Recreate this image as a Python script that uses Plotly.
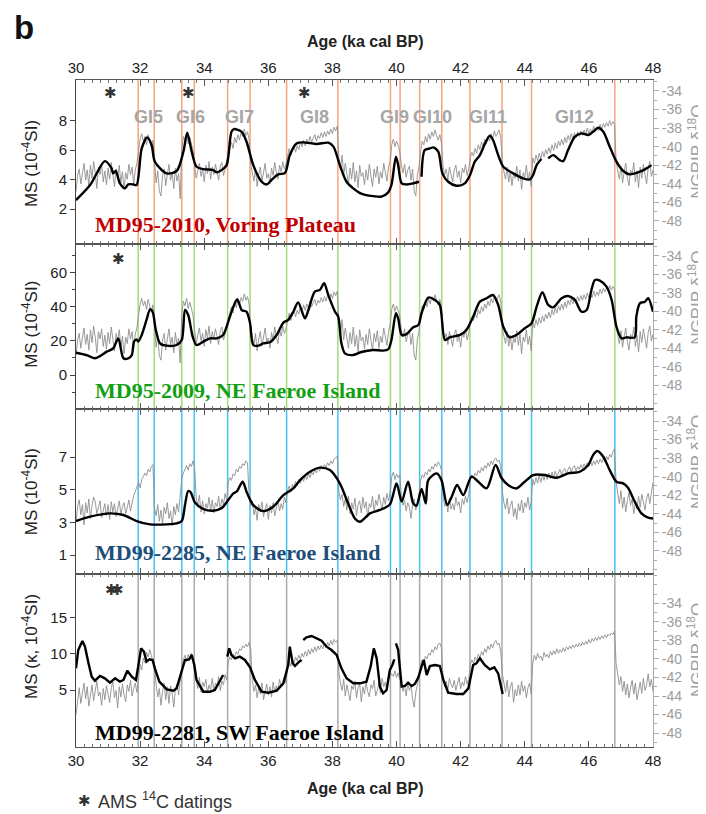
import numpy as np
import plotly.graph_objects as go

# ---------------- data ----------------
# common sampling grid of the NGRIP delta18O curves (ka cal BP)
NGRIP_AGE = np.round(np.arange(30.0, 48.0001, 0.05), 2)

# NGRIP d18O as drawn behind MD95-2010 and MD95-2009
NGRIP_D18O = [
    -44.8, -43.1, -42.4, -44.0, -42.9, -41.8, -43.6, -42.5, -44.2, -42.0,
    -43.4, -41.6, -42.8, -44.5, -42.2, -43.0, -41.9, -43.8, -42.6, -44.1,
    -42.3, -43.5, -41.7, -42.9, -44.3, -42.4, -43.2, -42.0, -43.9, -42.7,
    -44.6, -42.8, -43.5, -41.9, -43.0, -42.2, -44.0, -42.5, -41.8,
    -40.5, -39.2, -38.6, -39.4, -38.9, -39.8, -38.7, -39.5, -40.1, -39.3,
    -41.8, -43.9, -42.6, -44.8, -45.3, -43.1, -42.4, -44.2, -43.0, -41.9, -43.6, -42.8, -44.5, -42.3, -43.7, -42.9, -45.6,
    -40.2, -38.9, -39.4, -38.6, -39.7, -39.0, -39.8, -40.4,
    -42.1, -43.4, -42.6, -41.8, -43.2, -42.4, -43.8, -42.0, -42.9, -41.6, -43.5, -42.2, -43.0, -41.9, -42.7, -43.6, -42.1, -41.7, -43.1, -42.5, -41.5,
    -40.8, -40.1, -39.5, -40.2, -39.0, -39.6, -38.7, -39.3, -38.5, -38.9, -38.1, -38.8, -38.4, -39.2,
    -41.9, -42.8, -43.7, -42.4, -44.3, -43.0, -42.2, -43.8, -42.6, -41.8, -43.4, -42.9, -44.0, -42.3, -43.1, -41.7, -42.8, -43.5, -42.0, -42.7, -41.6, -42.4, -41.9,
    -40.9, -40.2, -41.0, -40.4, -39.8, -40.6, -39.9, -40.3, -39.5, -40.0, -39.3, -39.9, -39.2, -39.7, -38.9, -39.5,
    -39.0, -38.7, -39.4, -38.8, -39.1, -38.5, -39.0, -38.4, -38.9, -38.3, -38.7, -38.1, -38.6, -37.9, -38.3, -37.8,
    -41.2, -42.5, -40.9, -43.1, -41.8, -42.9, -44.0, -42.3, -43.5, -41.7, -43.8, -42.6, -44.4, -42.0, -43.2, -42.8, -44.1,
    -42.5, -43.6, -41.9, -43.0, -44.3, -42.4, -43.3, -42.1, -44.0, -42.7, -43.4, -41.8, -42.9, -43.7, -42.2, -41.5,
    -39.8, -39.2, -40.0, -39.4, -39.9, -40.5,
    -42.0, -42.8, -41.9, -43.3, -42.5, -42.1, -43.6, -42.4, -44.8, -45.3, -43.0, -42.2,
    -40.6, -39.4, -39.8, -38.9, -39.5, -38.6, -39.2, -38.4, -38.9, -38.2, -38.8, -39.3, -38.7, -39.6,
    -42.1, -43.0, -42.4, -43.6, -42.2, -42.9, -43.8, -42.5, -42.0, -43.3, -42.6, -43.9, -42.3, -42.8, -41.9, -43.1, -42.4,
    -41.2, -40.6, -41.0, -40.2, -40.7, -39.8, -40.3, -39.5, -40.0, -39.2, -39.7, -38.9, -39.4, -38.6, -39.1, -38.3, -38.9, -38.5, -38.2, -39.0,
    -41.9, -42.7, -43.5, -42.2, -43.8, -42.6, -44.2, -42.9, -43.4, -42.1, -43.7, -42.5, -44.6, -42.8, -43.3, -42.0, -43.6, -42.7, -44.3,
    -41.2, -41.8, -40.9, -41.5, -40.7, -41.3, -40.5, -41.1, -40.3, -40.8,
    -40.1, -40.7, -39.8, -40.4, -39.6, -40.2, -39.4, -39.9, -39.2, -39.8,
    -39.0, -39.6, -38.8, -39.3, -38.6, -39.2, -38.5, -39.0, -38.4, -38.9,
    -38.3, -38.8, -38.2, -38.7, -38.0, -38.6, -38.1, -38.5, -37.8, -38.4,
    -37.9, -38.3, -37.6, -38.1, -37.5, -37.9, -37.4, -37.8, -37.2, -37.7, -37.3, -37.6,
    -41.6, -42.4, -43.5, -42.1, -43.9, -42.7, -41.8, -43.3, -44.2, -42.5, -43.0, -41.7,
    -43.8, -42.6, -44.4, -42.2, -43.4, -41.9, -42.8, -44.0, -42.3, -41.6, -43.2, -42.5,
]

# NGRIP d18O as drawn behind MD99-2285
NGRIP_D18O_P3 = [
    -44.9, -43.2, -42.5, -44.1, -43.0, -45.2, -42.8, -43.9, -42.4, -44.5,
    -43.1, -42.2, -42.7, -44.0, -43.3, -42.6, -44.4, -43.5, -42.9, -44.2,
    -43.0, -44.6, -42.7, -43.8, -42.9, -44.3, -43.4, -42.6, -44.1, -43.2,
    -42.8, -44.0, -43.3, -42.5, -43.7, -42.9, -42.0,
    -41.6, -41.0, -40.6, -41.2, -40.3, -40.0, -39.6, -39.9, -39.2, -39.5, -38.9, -38.7,
    -43.4, -44.2, -43.0, -44.8, -43.6, -45.1, -43.3, -44.0, -42.8, -44.5, -43.7, -45.3, -43.2, -44.1, -42.9, -43.8, -41.5,
    -40.2, -39.6, -39.1, -38.8, -39.3, -38.6, -38.9, -38.3, -39.0,
    -42.3, -43.1, -42.0, -43.8, -42.6, -44.0, -42.9, -43.4, -42.2, -43.7, -42.5, -43.9, -42.8, -43.2, -42.1, -43.6, -42.4, -43.0, -41.8, -42.6,
    -40.6, -40.1, -40.4, -39.7, -39.9, -39.2, -39.5, -38.9, -39.1, -38.6, -38.8, -38.3, -38.5,
    -42.0, -43.2, -42.6, -44.1, -43.4, -44.7, -43.0, -43.8, -42.7, -44.3, -43.5, -42.9, -44.6, -43.1, -43.9, -42.8, -44.2, -43.3, -42.6, -43.7, -42.9, -43.5, -42.2, -42.8,
    -41.5, -41.0, -41.7, -40.8, -41.2, -40.5, -41.0, -40.3, -40.7, -40.1, -40.5, -39.9, -40.3, -39.7, -40.1, -39.5,
    -39.8, -39.2, -39.6, -39.0, -39.4, -38.8, -39.2, -38.7, -39.0, -38.5, -38.8, -38.3, -38.6, -38.1, -38.0, -37.8,
    -41.6, -42.5, -41.9, -43.2, -42.4, -43.6, -42.1, -44.0, -42.8, -43.5, -42.3, -44.2, -43.0, -42.6, -43.9, -42.2, -43.4,
    -42.7, -44.4, -42.9, -43.3, -42.1, -43.8, -42.5, -43.1, -41.9, -42.8, -43.6, -42.2, -43.0, -41.8, -42.6, -41.7,
    -40.0, -39.5, -40.3, -39.7, -40.1, -39.8,
    -42.0, -43.1, -42.5, -43.7, -42.8, -43.3, -44.5, -43.0, -42.4, -43.6, -42.7, -42.1,
    -40.4, -39.8, -40.1, -39.5, -39.8, -39.2, -39.5, -38.9, -39.2, -38.6, -38.9, -38.4, -38.7, -39.3,
    -42.0, -43.2, -42.6, -43.8, -42.3, -43.5, -42.9, -43.6, -42.2, -43.1, -42.7, -43.9, -42.4, -43.0, -42.1, -42.8, -41.9,
    -40.3, -39.8, -40.1, -39.6, -39.9, -39.3, -39.6, -39.0, -39.4, -38.8, -39.1, -38.5, -38.9, -38.3, -38.7, -38.1, -38.0, -38.4, -38.2, -38.9,
    -41.6, -42.8, -43.5, -42.3, -44.0, -43.1, -42.6, -44.3, -43.4, -44.6, -42.9, -43.7, -42.5, -43.9, -42.8, -43.3, -42.2, -43.6, -42.7,
    -40.3, -40.9, -40.1, -40.7, -39.9, -40.6, -39.8, -40.4, -39.7, -40.3,
    -39.6, -40.2, -39.5, -40.1, -39.4, -40.0, -39.6, -39.2, -39.9, -39.3,
    -39.1, -39.7, -39.2, -38.9, -39.5, -39.0, -38.8, -39.4, -38.9, -39.2,
    -38.7, -39.1, -38.6, -39.0, -38.5, -38.9, -38.4, -38.8, -38.3, -38.7,
    -38.2, -38.6, -38.1, -38.5, -38.0, -38.4, -37.8, -38.2, -37.6, -37.9, -37.3, -37.0,
    -40.6, -41.8, -42.9, -41.5, -43.4, -42.2, -43.8, -42.6, -41.7, -43.1, -42.4, -44.0,
    -42.8, -43.5, -42.1, -43.3, -41.9, -42.7, -43.6, -42.3, -41.8, -42.9, -41.4, -40.6,
]

# NGRIP d18O as drawn behind MD99-2281
NGRIP_D18O_P4 = [
    -46.0, -44.2, -43.1, -44.8, -43.5, -42.6, -44.3, -43.0, -45.1, -43.7,
    -42.8, -44.5, -43.3, -42.4, -44.0, -43.6, -45.0, -43.2, -44.4, -42.9,
    -43.8, -44.7, -43.1, -42.5, -44.2, -43.4, -45.3, -43.0, -44.1, -42.7,
    -43.9, -44.6, -42.8, -43.5, -42.3, -44.0, -43.2, -42.6, -43.6,
    -41.8, -40.6, -41.2, -39.9, -40.4, -39.3, -39.8, -39.0, -39.6, -40.3, -41.0,
    -42.8, -44.1, -43.2, -45.0, -43.5, -42.6, -44.4, -43.0, -44.8, -42.9, -43.7, -45.2, -43.3, -42.7, -43.9, -42.0,
    -40.8, -40.1, -39.6, -40.3, -39.5, -40.0, -39.4, -39.9, -40.5,
    -42.3, -43.2, -42.0, -43.6, -42.5, -43.0, -42.2, -43.7, -42.8, -43.3, -42.1, -43.5, -42.6, -42.9, -41.9, -43.4, -42.4, -42.8, -41.7, -42.3,
    -40.3, -39.8, -40.1, -39.5, -39.8, -39.2, -39.5, -38.9, -39.1, -38.6, -38.8, -38.4, -38.7, -38.2, -38.9,
    -42.3, -43.5, -42.8, -44.2, -43.1, -43.8, -42.6, -44.4, -43.3, -42.7, -43.9, -43.0, -44.1, -42.5, -43.6, -42.9, -43.4, -42.2, -43.0, -42.4, -41.9, -42.6,
    -40.6, -40.2, -40.8, -40.0, -40.5, -39.8, -40.2, -39.6, -40.0, -39.4, -39.8, -39.2, -39.7, -39.0, -39.5, -38.9,
    -39.3, -38.7, -39.2, -38.6, -39.0, -38.5, -38.9, -38.3, -38.8, -38.2, -38.6, -38.0, -38.5, -37.9, -38.2, -38.0,
    -41.5, -42.6, -43.4, -42.2, -44.0, -42.8, -43.6, -44.5, -42.9, -43.3, -42.4, -44.2, -43.1, -42.7, -44.6, -43.0, -43.8,
    -42.5, -43.5, -44.1, -42.8, -43.2, -42.3, -44.0, -43.4, -42.6, -43.7, -42.1, -43.0, -42.5, -43.3, -42.2, -41.9,
    -41.6, -41.9, -41.3, -42.0, -41.5, -42.2,
    -42.4, -43.5, -42.8, -44.0, -42.6, -43.4, -42.9, -44.3, -45.2, -43.6, -42.7, -42.0,
    -40.6, -40.1, -40.4, -39.7, -40.0, -39.4, -39.6, -39.0, -39.3, -38.7, -39.0, -38.4, -38.3, -38.8,
    -42.0, -43.0, -42.4, -43.3, -42.1, -42.8, -43.1, -42.3, -43.4, -42.6, -42.0, -43.2, -42.5, -42.9, -41.9, -42.7, -42.2,
    -40.6, -40.1, -40.5, -39.8, -40.2, -39.5, -39.9, -39.2, -39.6, -38.9, -39.3, -38.6, -39.0, -38.4, -38.8, -38.2, -38.0, -38.5, -38.3, -39.2,
    -41.6, -42.7, -43.6, -42.3, -44.1, -43.0, -42.5, -44.7, -43.3, -44.0, -42.8, -43.9, -42.4, -43.5, -42.9, -44.2, -43.1, -42.6, -43.8,
    -40.4, -39.6, -40.1, -39.4, -39.9, -39.7, -40.2, -39.3, -39.8, -39.5,
    -39.9, -39.2, -39.6, -39.1, -39.5, -38.9, -39.4, -39.0, -39.3, -38.8,
    -39.2, -38.7, -39.0, -38.6, -38.9, -38.5, -38.8, -38.4, -38.7, -38.3,
    -38.6, -38.2, -38.5, -38.1, -38.4, -37.9, -38.3, -37.8, -38.1, -37.7,
    -38.0, -37.6, -37.9, -37.5, -37.8, -37.4, -37.7, -37.3, -37.5, -37.2, -37.4, -37.0,
    -40.5, -41.6, -42.8, -41.9, -43.5, -42.4, -43.9, -42.7, -44.2, -43.1, -42.3, -43.8,
    -42.6, -44.4, -43.2, -42.5, -43.7, -42.1, -43.4, -42.8, -41.6, -43.0, -42.2, -43.5,
]

# Magnetic susceptibility records (10^-4 SI); None = gap in the record
MD2010_AGE = [30.0, 30.44, 30.9, 31.11, 31.16, 31.24, 31.37, 31.53, 31.63, 31.79, 31.89, 32.05, 32.22, 32.36, 32.46,
              32.83, 33.14, 33.35, 33.47, 33.61, 33.76, 33.97, 34.28, 34.39, 34.54, 34.7, 34.85, 34.93, 35.17, 35.32,
              35.53, 35.79, 35.95, 36.1, 36.31, 36.52, 36.67, 36.88, 37.09, 37.51, 37.87, 38.03, 38.23, 38.44, 38.65,
              38.86, 39.05, 39.27, 39.53, 39.74, 39.84, 39.98, 40.05, 40.16, 40.31, 40.52, 40.7, 40.75, 40.78, 40.88,
              41.04, 41.14, 41.3, 41.43, 41.61, 41.87, 42.13, 42.29, 42.44, 42.6, 42.76, 42.91, 43.01, 43.17, 43.33,
              43.64, 43.95, 44.16, 44.26, 44.37, 44.52, 44.62, 44.73, 44.89, 45.09, 45.2, 45.35, 45.56, 45.77, 45.98,
              46.13, 46.29, 46.45, 46.65, 46.86, 47.07, 47.28, 47.59, 47.8, 47.95]
MD2010_MS = [2.61, 3.63, 5.25, 4.76, 4.42, 4.58, 3.74, 3.40, 3.67, 3.67, 3.63, 6.11, 6.86, 6.34, 5.21,
             4.42, 4.58, 5.89, 7.18, 5.89, 4.87, 4.71, 4.64, 4.49, 4.64, 4.98, 7.24, 7.42, 7.24, 6.56,
             4.98, 3.85, 3.67, 3.97, 4.35, 4.46, 5.66, 6.45, 6.52, 6.41, 6.50, 6.23, 4.98, 3.85, 3.40,
             3.08, 2.95, 2.88, 2.84, 3.13, 3.63, 5.55, 4.98, 3.74, 3.67, 3.74, 3.85, None, 4.19, 6.0,
             6.11, 6.18, 5.89, 4.42, 3.85, 3.58, 3.74, 4.30, 5.21, 5.66, 6.45, 6.97, 6.68, 5.66, 4.87,
             4.42, 4.08, 4.01, 4.30, 4.98, 5.39, None, 5.44, 5.66, 5.32, 5.25, 6.0, 6.90, 7.13, 7.02,
             7.24, 7.51, 7.24, 6.23, 5.21, 4.58, 4.35, 4.53, 4.76, 4.98]

MD2009_AGE = [30.0, 30.33, 30.59, 30.75, 30.96, 31.16, 31.32, 31.48, 31.63, 31.74, 31.81, 31.89, 31.94, 32.05, 32.2,
              32.31, 32.39, 32.49, 32.62, 32.83, 33.14, 33.3, 33.4, 33.5, 33.64, 33.76, 33.97, 34.18, 34.39, 34.59,
              34.75, 34.91, 35.03, 35.17, 35.32, 35.43, 35.53, 35.69, 35.84, 36.05, 36.26, 36.47, 36.62, 36.78, 36.93,
              37.14, 37.25, 37.45, 37.61, 37.74, 37.87, 38.08, 38.18, 38.28, 38.39, 38.65, 38.9, 39.27, 39.58, 39.74,
              39.84, 39.98, 40.05, 40.16, 40.31, 40.52, 40.68, 40.78, 40.99, 41.2, 41.35, 41.51, 41.66, 41.98, 42.18,
              42.39, 42.6, 42.81, 43.01, 43.17, 43.33, 43.53, 43.74, 44.0, 44.21, 44.37, 44.55, 44.73, 44.89, 45.15,
              45.35, 45.56, 45.77, 45.93, 46.08, 46.19, 46.34, 46.55, 46.71, 46.86, 47.02, 47.17, 47.43, 47.48, 47.59,
              47.75, 47.85, 48.0]
MD2009_MS = [13.1, 11.7, 9.8, 11.1, 13.7, 15.6, 21.5, 9.8, 9.8, 11.7, 19.6, 20.9, 19.6, 23.5, 32.3,
             38.5, 37.1, 26.4, 18.6, 17.2, 17.6, 20.5, 38.1, 35.2, 22.5, 17.6, 19.6, 21.5, 21.5, 23.5,
             31.3, 40.1, 44.4, 38.1, 37.1, 30.3, 17.6, 17.2, 18.6, 19.2, 23.5, 30.7, 32.3, 37.1, 42.6,
             33.2, 38.1, 48.9, 49.9, 53.8, 46.9, 37.1, 34.2, 18.6, 12.7, 11.7, 13.5, 14.7, 14.3, 15.1,
             20.5, 36.2, 33.2, 23.5, 24.0, 28.0, 29.3, 36.2, 45.4, 44.0, 41.1, 20.5, 22.1, 23.5, 26.4,
             34.2, 43.0, 45.0, 46.9, 41.1, 28.3, 22.1, 23.5, 27.4, 30.3, 40.1, 48.5, 41.1, 39.7, 45.0,
             46.3, 44.0, 37.1, 38.1, 49.9, 55.7, 55.3, 51.8, 44.0, 28.3, 21.5, 22.1, 22.1, 34.2, 42.0,
             43.0, 45.0, 37.1]

MD2285_AGE = [30.0, 30.44, 31.06, 31.48, 31.89, 32.31, 32.83, 33.14, 33.3, 33.4, 33.5, 33.58, 33.71, 33.97, 34.28,
              34.54, 34.75, 34.91, 35.01, 35.2, 35.32, 35.53, 35.84, 36.15, 36.47, 36.78, 36.99, 37.3, 37.61, 37.92,
              38.23, 38.49, 38.7, 38.86, 39.17, 39.48, 39.79, 40.0, 40.16, 40.36, 40.52, 40.62, 40.78, 40.91, 40.99,
              41.25, 41.4, 41.58, 41.72, 41.89, 42.08, 42.34, 42.55, 42.81, 43.09, 43.27, 43.48, 43.74, 44.0, 44.26,
              44.63, 44.99, 45.35, 45.72, 45.98, 46.13, 46.26, 46.45, 46.65, 46.86, 47.07, 47.22, 47.43, 47.64, 47.85,
              48.0]
MD2285_MS = [3.08, 3.35, 3.55, 3.45, 3.08, 2.88, 2.88, 2.94, 3.08, 4.06, 4.92, 4.84, 4.22, 3.82, 3.71,
             3.86, 4.37, 4.78, 4.88, 5.49, 4.88, 4.06, 3.69, 3.96, 4.67, 5.08, 5.59, 6.10, 6.35, 6.20,
             5.39, 4.16, 3.24, 3.04, 3.55, 3.76, 4.10, 5.39, 4.27, 5.49, 4.16, 4.02, 5.04, 4.16, 5.59,
             6.0, 5.59, 4.06, 4.57, 5.29, 4.67, 5.80, 5.49, 5.08, 6.51, 5.73, 5.29, 5.08, 5.49, 5.90,
             5.90, 5.73, 6.0, 6.10, 6.51, 7.12, 7.37, 7.02, 6.20, 5.49, 5.39, 5.12, 4.27, 3.55, 3.29,
             3.24]

MD2281_AGE = [30.0, 30.07, 30.2, 30.28, 30.39, 30.49, 30.59, 30.75, 30.9, 31.06, 31.22, 31.37, 31.48, 31.6, 31.74,
              31.87, 31.94, 32.03, 32.12, 32.2, 32.29, 32.39, 32.46, 32.6, 32.83, 33.04, 33.14, 33.28, 33.4, 33.53,
              33.61, 33.69, 33.76, 33.97, 34.18, 34.33, 34.49, 34.59, 34.65, 34.72, 34.78, 34.85, 34.96, 35.11, 35.27,
              35.43, 35.58, 35.79, 36.0, 36.26, 36.47, 36.62, 36.67, 36.76, 36.83, 36.96, 37.04, 37.06, 37.09, 37.19,
              37.35, 37.51, 37.66, 37.82, 37.97, 38.13, 38.28, 38.44, 38.65, 38.86, 39.06, 39.19, 39.29, 39.38, 39.48,
              39.58, 39.69, 39.79, 39.87, 39.93, 39.95, 39.98, 40.05, 40.16, 40.26, 40.36, 40.47, 40.57, 40.68, 40.78,
              40.85, 40.94, 41.04, 41.2, 41.35, 41.46, 41.61, 41.87, 42.08, 42.24, 42.39, 42.49, 42.6, 42.75, 42.91,
              43.05, 43.17, 43.31]
MD2281_MS = [7.98, 10.5, 11.74, 10.96, 8.67, 6.83, 6.28, 6.93, 6.61, 6.01, 6.61, 6.15, 6.38, 7.66, 6.83,
             6.38, 8.21, 10.73, 10.28, 8.90, 9.22, 9.13, 7.98, 6.15, 5.09, 4.91, 5.23, 7.52, 9.13, 9.22,
             9.82, 8.44, 6.38, 4.77, 4.77, 5.0, 6.15, 7.06, None, 9.59, 10.73, 9.82, 9.36, 9.59, 9.13,
             8.12, 6.38, 4.77, 4.63, 4.91, 5.92, 8.44, 10.96, 8.67, 8.30, 8.90, 9.13, None, 11.88, 12.25,
             12.43, 12.11, 11.79, 10.96, 10.50, 9.82, 7.98, 6.61, 5.92, 5.92, 6.15, 8.21, 10.73, 9.36, 5.46,
             4.54, 5.0, 7.75, 8.44, 9.22, None, 11.42, 10.50, 5.46, 5.55, 6.01, 5.55, 5.83, 6.74, 8.21,
             9.13, 7.06, 8.30, 8.44, 8.30, 6.38, 4.63, 4.45, 4.45, 5.23, 8.44, 8.67, 9.36, 8.44, 7.84,
             8.12, 7.29, 4.45]

# Greenland interstadial boundaries (ka) and labels
GI_BOUNDS_AGE = [31.94, 32.44, 33.30, 33.69, 34.73, 35.43, 36.57, 38.17,
                 39.81, 40.11, 40.72, 41.41, 42.29, 43.29, 44.21, 46.81]
GI_NAMES = ["GI5", "GI6", "GI7", "GI8", "GI9", "GI10", "GI11", "GI12"]
GI_LABEL_AGE = [32.27, 33.57, 35.11, 37.44, 39.94, 41.13, 42.84, 45.56]

# AMS 14C dating positions (ka)
AMS_P1 = [31.08, 33.5, 37.12]
AMS_P2 = [31.32]
AMS_P3 = []
AMS_P4 = [31.1, 31.3]

AGE_TICKS = [30, 32, 34, 36, 38, 40, 42, 44, 46, 48]
D18O_TICKS = [-34, -36, -38, -40, -42, -44, -46, -48]
D18O_TICK_TEXT = ["-34", "-36", "-38", "-40", "-42", "-44", "-46", "-48"]

CORE_NAMES = ["MD95-2010, Voring Plateau", "MD95-2009, NE Faeroe Island",
              "MD99-2285, NE Faeroe Island", "MD99-2281, SW Faeroe Island"]

# ---------------- styling / layout ----------------
FONT = "Liberation Sans, Arial, sans-serif"
SERIF = "Liberation Serif, Times New Roman, serif"

panels = [
    dict(age=MD2010_AGE, ms=MD2010_MS, ngrip=NGRIP_D18O, ms_range=[-0.37, 10.75], d_range=[-50.48, -32.82],
         ms_ticks=[2, 4, 6, 8], ms_minor=None, vline='#f8a37e', name_color='#c00000',
         ms_title='MS (10<sup>-4</sup>SI)', shape='spline', ams=AMS_P1, ams_y=0.919,
         domain=[0.7541, 1.0], name_y=0.784, lt_y=0.874, rt_y=0.892),
    dict(age=MD2009_AGE, ms=MD2009_MS, ngrip=NGRIP_D18O, ms_range=[-19.94, 76.8], d_range=[-50.6, -32.7],
         ms_ticks=[0, 20, 40, 60], ms_minor=10, vline='#a3dc7a', name_color='#12a012',
         ms_title='MS (10<sup>-4</sup>SI)', shape='spline', ams=AMS_P2, ams_y=0.907,
         domain=[0.5067, 0.7541], name_y=0.535, lt_y=0.633, rt_y=0.673),
    dict(age=MD2285_AGE, ms=MD2285_MS, ngrip=NGRIP_D18O_P3, ms_range=[-0.16, 9.94], d_range=[-50.48, -32.71],
         ms_ticks=[1, 3, 5, 7], ms_minor=None, vline='#45c1f2', name_color='#1f4e79',
         ms_title='MS (10<sup>-4</sup>SI)', shape='spline', ams=AMS_P3, ams_y=0.9,
         domain=[0.2594, 0.5067], name_y=0.291, lt_y=0.382, rt_y=0.427),
    dict(age=MD2281_AGE, ms=MD2281_MS, ngrip=NGRIP_D18O_P4, ms_range=[-2.84, 20.96], d_range=[-49.5, -30.84],
         ms_ticks=[5, 10, 15], ms_minor=None, vline='#ababab', name_color='#000000',
         ms_title='MS (\u03ba, 10<sup>-4</sup>SI)', shape='linear', ams=AMS_P4, ams_y=0.907,
         domain=[0.0, 0.2594], name_y=0.021, lt_y=0.150, rt_y=0.145),
]


def axname(base, i):
    return base if i == 1 else f"{base}{i}"


def note(**kw):
    d = dict(showarrow=False, xanchor='center', yanchor='middle')
    d.update(kw)
    return d


fig = go.Figure()
# the page body adds an 8 px offset, so the figure is 8 px smaller than the window
layout = dict(
    width=698, height=806,
    margin=dict(l=68, r=53, t=72, b=67, autoexpand=False),
    paper_bgcolor='white', plot_bgcolor='white',
    showlegend=False,
    font=dict(family=FONT, color='#222'),
)
shapes, annotations = [], []

for k, p in enumerate(panels, start=1):
    xa = axname('x', k)
    yb = axname('y', 2 * k - 1)   # NGRIP (base, right)
    yo = axname('y', 2 * k)       # MS (overlay, left)

    layout[axname('xaxis', k)] = dict(
        domain=[0, 1], range=[30, 48], anchor=yb, automargin=False,
        side='top' if k == 1 else 'bottom',
        showticklabels=k in (1, 4),
        tickmode='array', tickvals=AGE_TICKS,
        ticks='inside', ticklen=6, tickcolor='#555',
        showline=True, linecolor='#555', linewidth=1, mirror='ticks',
        minor=dict(tickmode='linear', tick0=30, dtick=0.25, ticks='inside', ticklen=3, tickcolor='#777'),
        showgrid=False, zeroline=False,
        tickfont=dict(size=15, color='#222'),
    )
    layout[axname('yaxis', 2 * k - 1)] = dict(
        domain=p['domain'], range=p['d_range'], anchor=xa, side='right', automargin=False,
        tickmode='array', tickvals=D18O_TICKS, ticktext=D18O_TICK_TEXT,
        ticks='outside', ticklen=5, tickcolor='#aaa',
        showline=True, linecolor='#aaa', linewidth=1,
        minor=dict(tickmode='linear', tick0=-34, dtick=1, ticks='outside', ticklen=3, tickcolor='#aaa'),
        showgrid=False, zeroline=False,
        tickfont=dict(size=14, color='#9c9c9c'),
    )
    yo_ax = dict(
        overlaying=yb, anchor=xa, side='left', range=p['ms_range'], automargin=False,
        tickmode='array', tickvals=p['ms_ticks'],
        ticks='outside', ticklen=5, tickcolor='#444',
        showline=True, linecolor='#444', linewidth=1,
        showgrid=False, zeroline=False,
        tickfont=dict(size=15, color='#222'),
    )
    if p['ms_minor']:
        yo_ax['minor'] = dict(ticks='outside', ticklen=3, tickcolor='#444', dtick=p['ms_minor'],
                              tickmode='linear', tick0=0)
    layout[axname('yaxis', 2 * k)] = yo_ax

    # NGRIP (grey)
    fig.add_trace(go.Scatter(x=NGRIP_AGE, y=p['ngrip'], xaxis=xa, yaxis=yb, mode='lines',
                             line=dict(color='#8f8f8f', width=0.9), hoverinfo='skip'))
    # MS (black)
    line = dict(color='black', width=2.4, shape=p['shape'])
    if p['shape'] == 'spline':
        line['smoothing'] = 0.8
    fig.add_trace(go.Scatter(x=p['age'], y=p['ms'], xaxis=xa, yaxis=yo, mode='lines',
                             line=line, connectgaps=False))

    for g in GI_BOUNDS_AGE:
        shapes.append(dict(type='line', xref=xa, yref=f'{yb} domain', x0=g, x1=g, y0=0, y1=1,
                           line=dict(color=p['vline'], width=1.5), layer='below'))

    for a in p['ams']:
        annotations.append(note(xref=xa, yref=f'{yb} domain', x=a, y=p['ams_y'], text='\u2731',
                                font=dict(family='DejaVu Sans', size=15, color='#333')))

    annotations.append(note(xref='paper', yref='paper', x=0.0294, y=p['name_y'], xanchor='left',
                            text=f"<b>{CORE_NAMES[k - 1]}</b>",
                            font=dict(family=SERIF, size=22, color=p['name_color'])))
    annotations.append(note(xref='paper', yref='paper', x=-0.0797, y=p['lt_y'], textangle=-90,
                            text=p['ms_title'], font=dict(family=FONT, size=17, color='#222')))
    annotations.append(note(xref='paper', yref='paper', x=1.074, y=p['rt_y'], textangle=-90,
                            text='NGRIP \u03b4<sup>18</sup>O', font=dict(family=FONT, size=17, color='#a0a0a0')))

for name, a in zip(GI_NAMES, GI_LABEL_AGE):
    annotations.append(note(xref='x', yref='y domain', x=a, y=0.776, text=f"<b>{name}</b>",
                            font=dict(family=FONT, size=18, color='#a6a6a6')))

annotations += [
    note(xref='paper', yref='paper', x=-0.1109, y=1.0785, xanchor='left',
         text='<b>b</b>', font=dict(family=FONT, size=33, color='#111')),
    note(xref='paper', yref='paper', x=0.5, y=1.057, text='<b>Age (ka cal BP)</b>',
         font=dict(family=FONT, size=16, color='#222')),
    note(xref='paper', yref='paper', x=0.5, y=-0.0615, text='<b>Age (ka cal BP)</b>',
         font=dict(family=FONT, size=16, color='#222')),
    note(xref='paper', yref='paper', x=0.0139, y=-0.0805, text='\u2731',
         font=dict(family='DejaVu Sans', size=15, color='#333')),
    note(xref='paper', yref='paper', x=0.0346, y=-0.0805, xanchor='left',
         text='AMS <sup>14</sup>C datings', font=dict(family=FONT, size=18, color='#333')),
]

layout['shapes'] = shapes
layout['annotations'] = annotations
fig.update_layout(**layout)
fig.write_html("out.html")
